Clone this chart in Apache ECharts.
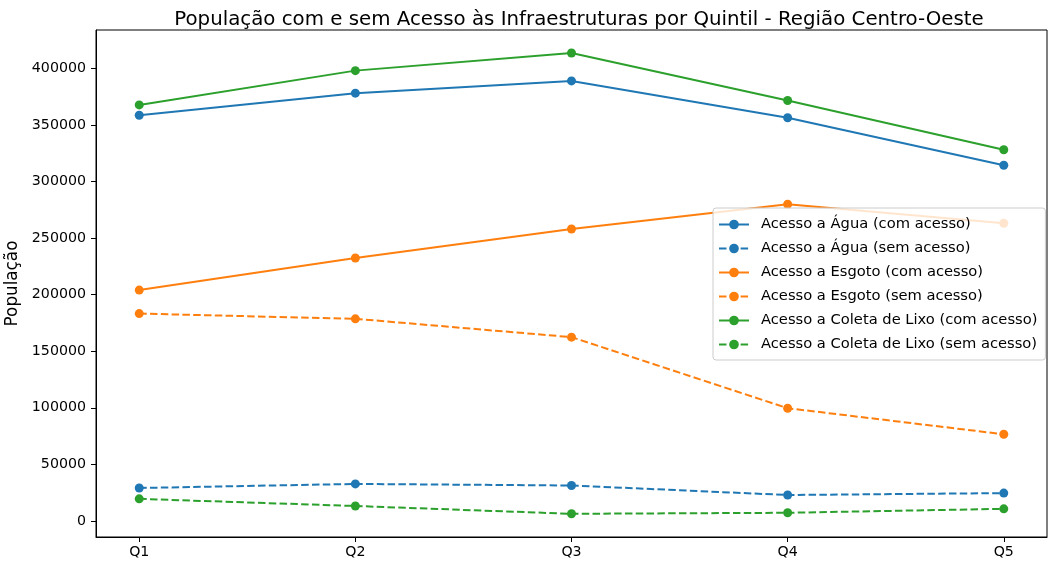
<!DOCTYPE html>
<html>
<head>
<meta charset="utf-8">
<script src="https://cdn.jsdelivr.net/npm/echarts@6/dist/echarts.min.js"></script>
<style>
    html, body { margin: 0; padding: 0; background: #fff; }
    #chart { width: 1049px; height: 563px; }
</style>
</head>
<body>
<div id="chart"></div>
<script>
var quintis = ['Q1', 'Q2', 'Q3', 'Q4', 'Q5'];
var aguaCom = [358500, 378000, 388800, 356300, 314300];
var aguaSem = [29100, 32700, 31300, 22900, 24600];
var esgotoCom = [204000, 232300, 258000, 279800, 263000];
var esgotoSem = [183200, 178600, 162400, 99600, 76600];
var lixoCom = [367600, 397900, 413500, 371500, 328000];
var lixoSem = [19500, 13200, 6300, 7200, 10700];
var yTicks = [0, 50000, 100000, 150000, 200000, 250000, 300000, 350000, 400000];

var FONT = 'DejaVu Sans';
var BLUE = '#1f77b4', ORANGE = '#ff7f0e', GREEN = '#2ca02c';

// pares [indice, valor] para o eixo x numerico
function pts(arr) {
    var out = [];
    for (var i = 0; i < arr.length; i++) {
        out.push([i, arr[i]]);
    }
    return out;
}

function serie(name, arr, color, dashed) {
    return {
        name : name,
        type : 'line',
        data : pts(arr),
        symbol : 'circle',
        symbolSize : 9,
        showSymbol : true,
        animation : false,
        itemStyle : { color : color },
        lineStyle : {
            color : color,
            width : 2,
            type : dashed ? [7.5, 3.3] : 'solid'
        }
    };
}

var chart = echarts.init(document.getElementById('chart'));
var option = {
    backgroundColor : '#fff',
    textStyle : { fontFamily : FONT },
    title : {
        text : 'População com e sem Acesso às Infraestruturas por Quintil - Região Centro-Oeste',
        left : 574,
        textAlign : 'center',
        top : 5,
        textStyle : { fontFamily : FONT, fontSize : 19.8, fontWeight : 'normal', color : '#000' }
    },
    grid : {
        left : 96,
        right : 2,
        top : 30,
        bottom : 26,
        outerBoundsMode : 'none',
        containLabel : false,
        show : true,
        borderColor : '#000',
        borderWidth : 1,
        backgroundColor : 'transparent'
    },
    legend : {
        orient : 'vertical',
        left : 713,
        top : 208,
        padding : [9, 8, 8, 5],
        itemGap : 9,
        itemWidth : 30,
        itemHeight : 12,
        backgroundColor : 'rgba(255,255,255,0.8)',
        borderColor : '#cccccc',
        borderWidth : 1,
        borderRadius : 3,
        textStyle : { fontFamily : FONT, fontSize : 14.7, color : '#000', padding : [0, 0, 0, 7] }
    },
    xAxis : {
        type : 'value',
        min : -0.2,
        max : 4.2,
        axisLine : { show : true, onZero : false, lineStyle : { color : '#000', width : 1 } },
        axisTick : { show : true, length : 5, lineStyle : { color : '#000' }, customValues : [0, 1, 2, 3, 4] },
        axisLabel : {
            customValues : [0, 1, 2, 3, 4],
            margin : 8,
            fontFamily : FONT,
            fontSize : 14.2,
            color : '#000',
            formatter : function(v) { return quintis[Math.round(v)]; }
        },
        splitLine : { show : false }
    },
    yAxis : {
        type : 'value',
        min : -14200,
        max : 433800,
        name : 'População',
        nameLocation : 'middle',
        nameGap : 68,
        nameTextStyle : { fontFamily : FONT, fontSize : 16.8, color : '#000' },
        axisLine : { show : true, onZero : false, lineStyle : { color : '#000', width : 1 } },
        axisTick : { show : true, length : 5, lineStyle : { color : '#000' }, customValues : yTicks },
        axisLabel : {
            customValues : yTicks,
            margin : 10,
            fontFamily : FONT,
            fontSize : 14.2,
            color : '#000',
            formatter : function(v) { return String(v); }
        },
        splitLine : { show : false }
    },
    series : [
        serie('Acesso a Água (com acesso)', aguaCom, BLUE, false),
        serie('Acesso a Água (sem acesso)', aguaSem, BLUE, true),
        serie('Acesso a Esgoto (com acesso)', esgotoCom, ORANGE, false),
        serie('Acesso a Esgoto (sem acesso)', esgotoSem, ORANGE, true),
        serie('Acesso a Coleta de Lixo (com acesso)', lixoCom, GREEN, false),
        serie('Acesso a Coleta de Lixo (sem acesso)', lixoSem, GREEN, true)
    ]
};
chart.setOption(option);
</script>
</body>
</html>
